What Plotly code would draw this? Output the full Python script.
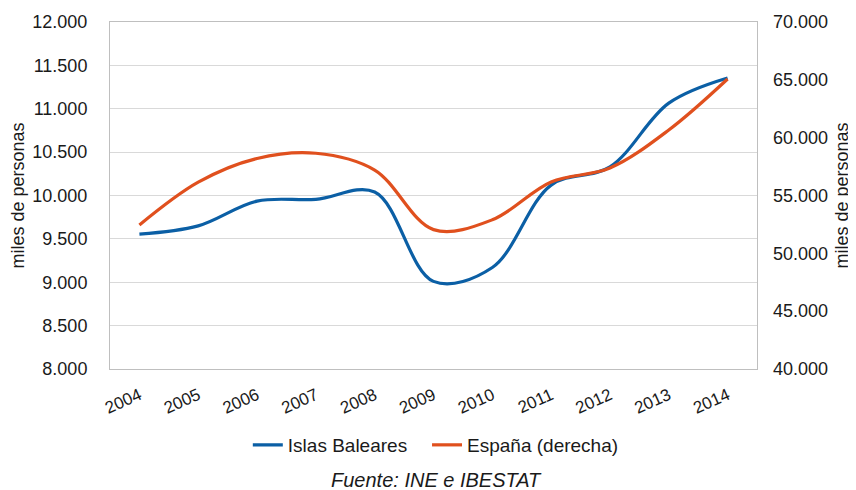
import plotly.graph_objects as go

years = ["2004", "2005", "2006", "2007", "2008", "2009", "2010", "2011", "2012", "2013", "2014"]
baleares = [9555, 9650, 9935, 9955, 10040, 9010, 9170, 10120, 10330, 11065, 11355]
espana = [52450, 56150, 58200, 58650, 57200, 52050, 52900, 56170, 57380, 60660, 65070]

blue = "#0B5FA5"
orange = "#E0501E"
font_family = "Liberation Sans, Arial, sans-serif"

fig = go.Figure()
fig.add_trace(go.Scatter(x=years, y=baleares, name="Islas Baleares", mode="lines",
                         line=dict(color=blue, width=3.2, shape="spline", smoothing=1.0),
                         yaxis="y", legend="legend"))
fig.add_trace(go.Scatter(x=years, y=espana, name="España (derecha)", mode="lines",
                         line=dict(color=orange, width=3.2, shape="spline", smoothing=1.0),
                         yaxis="y2", legend="legend2"))

legend_style = dict(orientation="h", xanchor="left", y=-0.219, yanchor="middle",
                    font=dict(size=19), itemwidth=30, bgcolor="rgba(0,0,0,0)")

# page body has an 8px margin: figure is drawn at (8, 8)
fig.update_layout(
    width=848, height=482,
    margin=dict(l=102, r=99, t=14, b=121, autoexpand=False),
    paper_bgcolor="white", plot_bgcolor="white",
    separators=",.",
    font=dict(family=font_family, size=18, color="#1a1a1a"),
    showlegend=True,
    legend=dict(x=0.213, **legend_style),
    legend2=dict(x=0.49, **legend_style),
    xaxis=dict(type="category", tickangle=-24, showgrid=False, ticks="",
               showline=True, linecolor="#BFBFBF", linewidth=1, mirror=True,
               tickfont=dict(size=17), range=[-0.5, 10.5], automargin=False,
               ticklabelstandoff=9),
    yaxis=dict(range=[8000, 12000], dtick=500, tickformat=",d",
               showgrid=True, gridcolor="#D9D9D9", gridwidth=1,
               showline=True, linecolor="#BFBFBF", linewidth=1, mirror=True,
               zeroline=False, ticks="", ticklabelstandoff=18, automargin=False,
               tickfont=dict(size=18),
               title=dict(text="miles de personas", font=dict(size=18), standoff=8)),
    yaxis2=dict(range=[40000, 70000], dtick=5000, tickformat=",d",
                overlaying="y", side="right", showgrid=False, zeroline=False,
                showline=False, ticks="", ticklabelstandoff=15, automargin=False,
                tickfont=dict(size=18),
                title=dict(text="miles de personas", font=dict(size=18), standoff=8)),
    annotations=[dict(text="<i>Fuente: INE e IBESTAT</i>", xref="paper", yref="paper",
                      x=0.505, y=-0.32, xanchor="center", yanchor="middle",
                      showarrow=False, font=dict(size=20))],
)

fig.write_html("out.html")
